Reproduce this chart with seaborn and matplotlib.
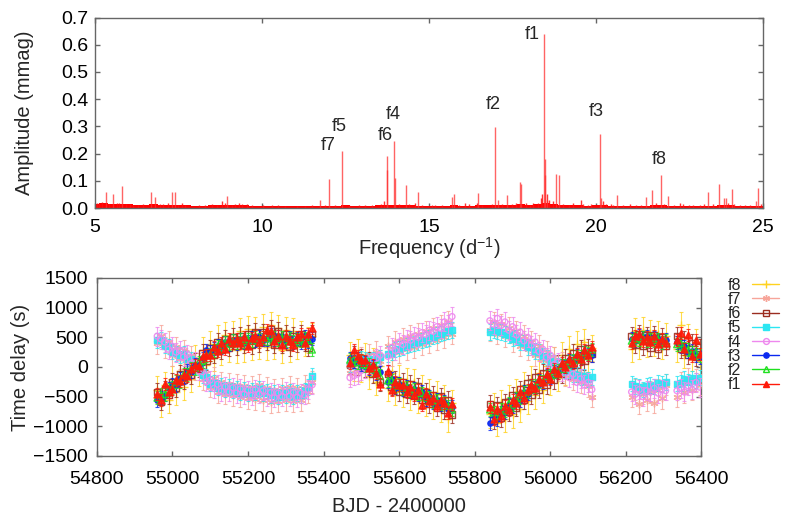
import numpy as np
import pandas as pd
import matplotlib
matplotlib.use('Agg')
import matplotlib.pyplot as plt
import seaborn as sns
from matplotlib.lines import Line2D

# ---------------- top panel: amplitude spectrum ----------------
peak_freq = [12.00, 12.40, 13.74, 13.96, 16.98, 18.43, 20.11, 21.94,
             13.75, 13.97, 18.46, 18.48, 18.80, 18.90, 17.72, 17.76,
             14.31, 14.66, 5.32, 5.55, 5.82, 6.67, 6.81, 7.32, 7.40,
             8.96, 11.75, 15.68, 15.75, 16.48, 17.35, 20.64, 21.49,
             21.69, 22.16, 23.34, 23.69, 23.82, 23.88, 24.06, 24.79,
             24.86, 20.16, 17.08, 18.54]
peak_amp = [0.107, 0.210, 0.190, 0.246, 0.298, 0.640, 0.273, 0.122,
            0.140, 0.110, 0.120, 0.179, 0.125, 0.120, 0.094, 0.087,
            0.083, 0.058, 0.058, 0.050, 0.081, 0.058, 0.042, 0.058, 0.058,
            0.045, 0.030, 0.041, 0.053, 0.056, 0.046, 0.046, 0.040,
            0.066, 0.045, 0.058, 0.087, 0.036, 0.036, 0.070, 0.026,
            0.075, 0.035, 0.030, 0.030]

small_freq = [5.05, 5.12, 5.20, 5.42, 5.65, 5.72, 5.93, 6.06, 6.15, 6.30, 6.45,
              6.95, 7.05, 7.18, 7.50, 7.62, 7.70, 8.10, 8.30, 8.50, 8.65, 8.80,
              8.88, 9.10, 9.20, 9.30, 9.40, 9.55, 9.70, 10.03, 10.30, 10.48,
              10.70, 11.05, 11.30, 11.50, 11.90, 12.20, 12.60, 12.90, 13.08,
              13.30, 13.55, 13.65, 14.10, 14.40, 14.58, 14.80, 15.10, 15.18,
              15.40, 15.90, 16.08, 16.20, 16.43, 16.60, 16.89, 17.20, 17.49,
              17.60, 17.90, 18.02, 18.10, 18.27, 18.35, 18.38, 18.52, 18.60,
              18.70, 19.00, 19.20, 19.32, 19.54, 19.62, 19.75, 19.86, 20.22,
              20.30, 20.44, 20.50, 20.80, 21.02, 21.20, 21.35, 21.80, 22.05,
              22.35, 22.51, 22.60, 22.80, 22.91, 23.10, 23.23, 23.50, 23.95,
              24.13, 24.30, 24.46, 24.60, 24.95]
small_amp = [0.020, 0.018, 0.022, 0.015, 0.020, 0.018, 0.015, 0.015, 0.012, 0.012, 0.014,
             0.015, 0.015, 0.020, 0.012, 0.018, 0.010, 0.010, 0.012, 0.015, 0.012, 0.025,
             0.020, 0.012, 0.014, 0.020, 0.015, 0.015, 0.010, 0.010, 0.010, 0.010,
             0.008, 0.008, 0.008, 0.010, 0.012, 0.012, 0.010, 0.012, 0.012,
             0.010, 0.015, 0.025, 0.015, 0.015, 0.020, 0.012, 0.010, 0.010,
             0.012, 0.012, 0.020, 0.015, 0.020, 0.012, 0.015, 0.015, 0.015,
             0.020, 0.020, 0.010, 0.020, 0.020, 0.035, 0.050, 0.050, 0.030,
             0.025, 0.015, 0.012, 0.020, 0.030, 0.015, 0.012, 0.015, 0.025,
             0.015, 0.015, 0.012, 0.012, 0.015, 0.012, 0.010, 0.020, 0.015,
             0.012, 0.020, 0.015, 0.010, 0.012, 0.012, 0.015, 0.015, 0.020,
             0.015, 0.012, 0.010, 0.012, 0.015]

floor_freq = [5.00, 5.25, 5.50, 5.75, 6.00, 6.25, 6.50, 6.75, 7.00, 7.25, 7.50, 7.75,
              8.00, 8.25, 8.50, 8.75, 9.00, 9.25, 9.50, 9.75, 10.00, 10.25, 10.50,
              10.75, 11.00, 11.25, 11.50, 11.75, 12.00, 12.25, 12.50, 12.75, 13.00,
              13.25, 13.50, 13.75, 14.00, 14.25, 14.50, 14.75, 15.00, 15.25, 15.50,
              15.75, 16.00, 16.25, 16.50, 16.75, 17.00, 17.25, 17.50, 17.75, 18.00,
              18.25, 18.50, 18.75, 19.00, 19.25, 19.50, 19.75, 20.00, 20.25, 20.50,
              20.75, 21.00, 21.25, 21.50, 21.75, 22.00, 22.25, 22.50, 22.75, 23.00,
              23.25, 23.50, 23.75, 24.00, 24.25, 24.50, 24.75, 25.00]
floor_amp = [0.016, 0.018, 0.015, 0.016, 0.013, 0.011, 0.012, 0.013, 0.012, 0.011, 0.012, 0.010,
             0.009, 0.009, 0.010, 0.012, 0.011, 0.011, 0.010, 0.009, 0.008, 0.008, 0.008,
             0.007, 0.007, 0.008, 0.008, 0.009, 0.009, 0.009, 0.010, 0.009, 0.009,
             0.009, 0.011, 0.012, 0.011, 0.010, 0.010, 0.009, 0.008, 0.009, 0.009,
             0.010, 0.009, 0.009, 0.010, 0.010, 0.011, 0.010, 0.012, 0.013, 0.012,
             0.015, 0.018, 0.013, 0.011, 0.010, 0.010, 0.009, 0.010, 0.011, 0.009,
             0.009, 0.009, 0.008, 0.009, 0.010, 0.010, 0.009, 0.009, 0.008, 0.008,
             0.009, 0.009, 0.010, 0.010, 0.009, 0.008, 0.009, 0.009]

mode_names = ['f1', 'f2', 'f3', 'f4', 'f5', 'f6', 'f7', 'f8']

# ---------------- bottom panel: time delays ----------------
bjd = [54960, 54970, 54980, 54990, 55000, 55010, 55020, 55030, 55040, 55050,
       55060, 55070, 55080, 55090, 55100, 55110, 55120, 55130, 55140, 55150,
       55160, 55170, 55180, 55190, 55200, 55210, 55220, 55230, 55240, 55250,
       55260, 55270, 55280, 55290, 55300, 55310, 55320, 55330, 55340, 55350,
       55360, 55370,
       55470, 55480, 55490, 55500, 55510, 55520, 55530, 55540, 55550,
       55570, 55580, 55590, 55600, 55610, 55620, 55630, 55640, 55650, 55660,
       55670, 55680, 55690, 55700, 55710, 55720, 55730, 55740,
       55840, 55850, 55860, 55870, 55880, 55890, 55900, 55910, 55920, 55930,
       55940, 55950, 55960, 55970, 55980, 55990, 56000, 56010, 56020, 56030,
       56040, 56050, 56060, 56070, 56080, 56090, 56100, 56110,
       56215, 56225, 56235, 56245, 56255, 56265, 56275, 56285, 56295, 56305,
       56335, 56345, 56355, 56365, 56375, 56385, 56395]

td_f1 = [-450, -560, -290, -420, -370, -220, -230, -140, -150, -40,
         30, 20, 180, 200, 200, 340, 270, 410, 310, 470,
         400, 470, 400, 510, 350, 490, 520, 420, 510, 620,
         600, 430, 530, 370, 530, 430, 370, 500, 550, 400, 550, 650,
         60, 290, 190, 120, 110, -20, 30, -100, -280,
         -60, -390, -250, -310, -300, -420, -330, -470, -380, -640,
         -450, -580, -520, -650, -560, -600, -780, -620,
         -680, -870, -700, -820, -660, -720, -560, -600, -420, -520,
         -380, -300, -350, -200, -260, -120, -200, -40, -100, 60,
         0, 140, 60, 220, 140, 280, 200, 330,
         400, 520, 560, 430, 500, 420, 520, 380, 480, 410,
         460, 570, 300, 540, 180, 460, 220]
td_f2 = [-520, -470, -460, -380, -350, -250, -240, -130, -120, -30,
         -20, 80, 100, 200, 210, 270, 350, 350, 410, 390,
         440, 410, 460, 430, 470, 440, 490, 460, 500, 480,
         520, 490, 470, 500, 450, 480, 430, 470, 440, 480, 450, 290,
         120, 130, 80, 110, 30, 40, -40, -30, -150,
         -230, -220, -320, -300, -360, -340, -400, -380, -440, -440,
         -520, -510, -580, -560, -620, -600, -660, -720,
         -720, -760, -820, -720, -740, -620, -640, -530, -520, -430,
         -420, -330, -320, -240, -240, -160, -150, -80, -60, 20,
         30, 100, 110, 180, 170, 240, 230, 290,
         440, 480, 460, 490, 440, 470, 450, 470, 420, 440,
         380, 400, 310, 300, 240, 250, 200]
td_f3 = [-560, -520, -470, -360, -300, -310, -190, -180, -60, -80,
         40, 30, 150, 280, 260, 310, 360, 330, 420, 380,
         450, 400, 470, 410, 430, 490, 440, 510, 460, 470,
         540, 460, 520, 450, 430, 490, 420, 480, 420, 520, 430, 480,
         150, 90, 140, 40, 80, -20, 10, -110, -90,
         -250, -200, -350, -280, -380, -330, -420, -370, -460, -420,
         -540, -490, -600, -550, -640, -590, -700, -670,
         -950, -820, -880, -760, -760, -640, -660, -540, -560, -420,
         -450, -320, -340, -230, -260, -150, -170, -70, -90, 30,
         10, 110, 90, 190, 150, 250, 210, 200,
         480, 440, 530, 500, 520, 430, 500, 470, 410, 460,
         420, 350, 350, 260, 270, 200, 160]
td_f4 = [520, 470, 420, 300, 350, 250, 280, 170, 210, 60,
         90, -60, -80, -250, -220, -360, -290, -410, -330, -420,
         -350, -440, -370, -460, -390, -480, -380, -450, -400, -500,
         -430, -520, -440, -500, -420, -490, -430, -510, -440, -470, -380, -300,
         -180, -150, -120, -60, -20, 50, 80, 150, 200,
         180, 330, 280, 420, 380, 470, 450, 520, 500, 580,
         550, 620, 600, 680, 650, 760, 720, 850,
         780, 720, 820, 700, 760, 620, 680, 540, 590, 440,
         500, 370, 420, 260, 300, 160, 200, 40, 80, -80,
         -40, -180, -120, -260, -200, -300, -260, -380,
         -420, -460, -380, -500, -400, -420, -360, -440, -380, -400,
         -400, -360, -420, -320, -380, -260, -340]
td_f5 = [450, 460, 360, 350, 260, 230, 200, 220, 140, 130,
         20, 0, -140, -170, -280, -270, -350, -320, -380, -340,
         -400, -360, -430, -380, -440, -400, -430, -370, -440, -410,
         -480, -440, -500, -430, -470, -420, -490, -440, -470, -400, -340, -150,
         50, 100, 90, 140, 120, 100, 130, 110, 160,
         220, 240, 290, 310, 330, 360, 380, 400, 420, 450,
         460, 490, 510, 540, 560, 590, 610, 620,
         590, 620, 600, 590, 560, 540, 480, 500, 420, 410,
         340, 330, 270, 260, 190, 160, 100, 70, 20, -10,
         -60, -60, -120, -130, -170, -160, -210, -170,
         -280, -320, -340, -380, -320, -300, -330, -270, -290, -250,
         -280, -270, -200, -250, -190, -230, -180]
td_f6 = [-420, -580, -380, -470, -250, -350, -120, -220, -30, -140,
         90, -20, 230, 100, 310, 210, 420, 290, 470, 330,
         500, 360, 520, 380, 560, 370, 590, 400, 580, 430,
         640, 380, 600, 390, 550, 340, 520, 400, 560, 420, 330, 560,
         30, 200, 20, 150, -20, 100, -120, 50, -250,
         -120, -330, -220, -420, -250, -460, -290, -480, -330, -560,
         -420, -620, -470, -680, -500, -720, -560, -800,
         -620, -900, -650, -860, -600, -760, -480, -680, -380, -560,
         -280, -470, -180, -380, -100, -300, -20, -220, 60, -120,
         150, -50, 230, 40, 300, 100, 320, 230,
         520, 380, 560, 360, 530, 330, 540, 300, 500, 350,
         520, 300, 450, 200, 400, 170, 330]
td_f7 = [400, 520, 330, 420, 200, 330, 150, 280, 100, 180,
         -40, 60, -200, -100, -330, -180, -420, -260, -450, -280,
         -470, -300, -500, -320, -520, -330, -540, -300, -560, -350,
         -590, -380, -580, -360, -560, -340, -580, -360, -560, -320, -420, -250,
         -100, 50, -60, 150, 0, 200, 40, 250, 100,
         350, 200, 420, 250, 480, 300, 520, 330, 560, 380,
         600, 420, 650, 460, 700, 500, 760, 560,
         620, 750, 560, 720, 520, 660, 440, 600, 360, 520,
         300, 420, 200, 360, 120, 260, 30, 160, -60, 80,
         -140, 20, -200, -80, -260, -120, -320, -500,
         -500, -380, -620, -450, -560, -420, -600, -380, -520, -300,
         -500, -260, -420, -200, -380, -220, -300]
td_f8 = [-380, -620, -300, -550, -200, -420, -60, -330, 50, -200,
         150, -100, 280, 40, 380, 150, 480, 260, 540, 300,
         560, 290, 600, 310, 640, 330, 620, 350, 680, 340,
         700, 360, 650, 280, 620, 310, 600, 350, 560, 400, 450, 520,
         200, -20, 250, -40, 180, -150, 100, -250, 20,
         -350, -100, -420, -180, -450, -230, -500, -250, -560, -350,
         -600, -420, -650, -460, -700, -520, -880, -600,
         -800, -650, -950, -600, -880, -520, -800, -420, -700, -300,
         -580, -200, -480, -100, -380, 20, -260, 120, -180, 200,
         -80, 300, 0, 380, 60, 420, 140, 320,
         300, 600, 350, 620, 380, 580, 400, 560, 350, 520,
         300, 700, 200, 500, 150, 420, 100]

td_err = [100, 110, 110, 160, 130, 150, 180, 220]   # typical 1-sigma per mode (s)

# ---------------- styling ----------------
sns.set_theme(style='ticks')
plt.rcParams['font.family'] = ['Liberation Sans', 'DejaVu Sans']
plt.rcParams['mathtext.fontset'] = 'custom'
plt.rcParams['mathtext.rm'] = 'Liberation Sans'
plt.rcParams['mathtext.it'] = 'Liberation Sans:italic'
spine_col = '#666666'

fig = plt.figure(figsize=(7.89, 5.29), dpi=100)
ax1 = fig.add_axes([0.1204, 0.6068, 0.8466, 0.3600])
ax2 = fig.add_axes([0.1226, 0.1380, 0.7665, 0.3365])

for ax in (ax1, ax2):
    for s in ax.spines.values():
        s.set_color(spine_col)
        s.set_linewidth(1.0)
    ax.tick_params(direction='in', length=3.5, width=1.0, color=spine_col,
                   top=True, right=True, labelsize=14, labelcolor='black')

# spectrum
ax1.fill_between(floor_freq, 0, floor_amp, step='mid', color='#ff0000', lw=0)
ax1.vlines(small_freq, 0, small_amp, color='#ff1010', lw=1.0, alpha=0.85)
ax1.vlines(peak_freq, 0, peak_amp, color='#ff3030', lw=1.0, alpha=0.75)
ax1.set_xlim(5, 25)
ax1.set_ylim(0, 0.7)
ax1.set_xticks([5, 10, 15, 20, 25])
ax1.set_yticks([0, 0.1, 0.2, 0.3, 0.4, 0.5, 0.6, 0.7])
ax1.set_yticklabels([f'{v:.1f}' for v in [0, 0.1, 0.2, 0.3, 0.4, 0.5, 0.6, 0.7]])
ax1.tick_params(axis='x', pad=8)
ax1.tick_params(axis='y', pad=5)
ax1.set_xlabel('Frequency (d$^{\\mathregular{-1}}$)', fontsize=14.5, labelpad=-1)
ax1.set_ylabel('Amplitude (mmag)', fontsize=14.5, labelpad=19)

label_pos = {'f1': (18.10, 0.638), 'f2': (16.93, 0.382), 'f3': (20.02, 0.356),
             'f4': (13.93, 0.342), 'f5': (12.31, 0.299), 'f6': (13.70, 0.266),
             'f7': (11.97, 0.228), 'f8': (21.88, 0.179)}
for name in mode_names:
    x, y = label_pos[name]
    ax1.text(x, y, name, fontsize=13, ha='center', va='center')

# time delays
colors = {'f1': '#ff1a0a', 'f2': '#1fe01f', 'f3': '#0a28f0', 'f4': '#ee88ee',
          'f5': '#2ce6f2', 'f6': '#9b2d20', 'f7': '#f7a59a', 'f8': '#ffd21f'}
markers = {'f1': '^', 'f2': '^', 'f3': 'o', 'f4': 'o', 'f5': 's', 'f6': 's',
           'f7': (6, 2, 0), 'f8': '+'}
msize = {'f1': 5.0, 'f2': 4.6, 'f3': 3.8, 'f4': 4.2, 'f5': 4.2, 'f6': 4.6, 'f7': 5.0, 'f8': 5.5}
filled = {'f1': True, 'f2': False, 'f3': True, 'f4': False, 'f5': True,
          'f6': False, 'f7': True, 'f8': True}
series = {'f1': td_f1, 'f2': td_f2, 'f3': td_f3, 'f4': td_f4,
          'f5': td_f5, 'f6': td_f6, 'f7': td_f7, 'f8': td_f8}

frames = []
for name, err in zip(mode_names, td_err):
    frames.append(pd.DataFrame({'bjd': bjd, 'delay': series[name], 'mode': name, 'err': err}))
df = pd.concat(frames, ignore_index=True)

handles = []
for z, name in enumerate(reversed(mode_names)):   # f8 first, f1 on top
    d = df[df['mode'] == name]
    c = colors[name]
    ax2.errorbar(d['bjd'], d['delay'], yerr=d['err'], fmt='none', ecolor=c,
                 elinewidth=0.8, capsize=1.5, capthick=0.8, alpha=0.8, zorder=2 + z)
    fc = c if filled[name] else 'none'
    sns.scatterplot(x=d['bjd'].to_numpy(), y=d['delay'].to_numpy(), ax=ax2,
                    marker=markers[name], s=msize[name] ** 2,
                    facecolors=fc, edgecolors=c, color=c, linewidths=1.0,
                    alpha=0.9, zorder=3 + z, legend=False)
    handles.append(Line2D([0], [0], color=c, lw=1.0, marker=markers[name],
                          markersize=msize[name], markerfacecolor=fc,
                          markeredgecolor=c, markeredgewidth=1.0))

ax2.set_xlim(54800, 56400)
ax2.set_ylim(-1500, 1500)
ax2.set_xticks([54800, 55000, 55200, 55400, 55600, 55800, 56000, 56200, 56400])
ax2.set_yticks([-1500, -1000, -500, 0, 500, 1000, 1500])
ax2.tick_params(axis='x', pad=11)
ax2.tick_params(axis='y', pad=6.5)
ax2.set_xlabel('BJD - 2400000', fontsize=14.5, labelpad=6)
ax2.set_ylabel('Time delay (s)', fontsize=14.5, labelpad=2)

fig.legend(handles, list(reversed(mode_names)), loc='upper left',
           bbox_to_anchor=(0.908, 0.496), frameon=False, markerfirst=False,
           fontsize=11.5, handlelength=1.7, handletextpad=0.7, labelspacing=-0.05,
           borderpad=0.2)

fig.savefig('out.png', dpi=100)
